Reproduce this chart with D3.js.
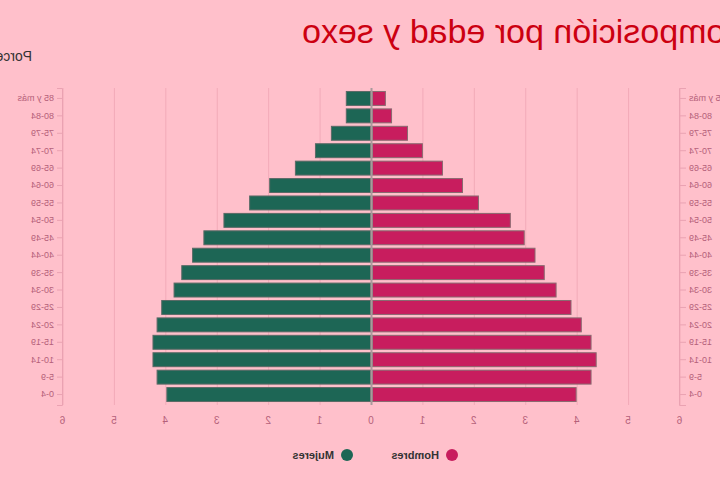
<!DOCTYPE html>
<html>
<head>
<meta charset="utf-8">
<script src="https://cdn.jsdelivr.net/npm/d3@7"></script>
<style>
  body { margin: 0; background: #ffc0cb; }
  /* the reference is shown mirrored, so the whole drawing is flipped */
  svg { display: block; transform: scaleX(-1); font-family: "Liberation Sans", Arial, sans-serif; }
</style>
</head>
<body>
<svg width="720" height="480"></svg>
<script>
// age groups, bottom to top
var ageGroups = ["0-4", "5-9", "10-14", "15-19", "20-24", "25-29", "30-34", "35-39", "40-44",
  "45-49", "50-54", "55-59", "60-64", "65-69", "70-74", "75-79", "80-84", "85 y más"];

// percent of population
var hombres = [3.98, 4.27, 4.37, 4.27, 4.08, 3.88, 3.59, 3.36, 3.18, 2.97, 2.70, 2.08, 1.77, 1.38, 0.99, 0.70, 0.39, 0.27];
var mujeres = [3.98, 4.17, 4.25, 4.25, 4.17, 4.08, 3.84, 3.69, 3.48, 3.26, 2.87, 2.37, 1.98, 1.48, 1.09, 0.78, 0.49, 0.49];

var xTicks = [-6, -5, -4, -3, -2, -1, 0, 1, 2, 3, 4, 5, 6];
var seriesNames = ["Hombres", "Mujeres"];
var seriesColors = ["#c81d5e", "#1d6655"];

var svg = d3.select("svg");

// plot area
var x = d3.scaleLinear().domain([-6, 6]).range([40, 657]);
var y = d3.scaleBand().domain(ageGroups).range([405, 88]).padding(0.2);

// title and unit
svg.append("text")
    .attr("x", 418).attr("y", 43)
    .attr("text-anchor", "end")
    .attr("font-size", 34)
    .attr("fill", "#cc0011")
    .text("Composición por edad y sexo");

svg.append("text")
    .attr("x", 688).attr("y", 61)
    .attr("font-size", 14)
    .attr("fill", "#333")
    .text("Porcentaje");

// vertical grid
svg.append("g")
    .selectAll("line")
    .data(xTicks)
    .enter().append("line")
      .attr("x1", function(d) { return x(d); })
      .attr("x2", function(d) { return x(d); })
      .attr("y1", 88).attr("y2", 405)
      .attr("stroke", "#f2aab8")
      .attr("stroke-width", 1);

// x axis labels
var xAxis = svg.append("g")
    .attr("transform", "translate(0,405)")
    .call(d3.axisBottom(x).tickValues(xTicks).tickSize(0).tickPadding(12)
      .tickFormat(function(d) { return Math.abs(d); }));
xAxis.select(".domain").remove();
xAxis.selectAll("text").attr("fill", "#b5607a").attr("font-size", 10);

// age axes on both sides
var yLeft = svg.append("g")
    .attr("transform", "translate(" + x(-6) + ",0)")
    .call(d3.axisLeft(y).tickSize(6));
var yRight = svg.append("g")
    .attr("transform", "translate(" + x(6) + ",0)")
    .call(d3.axisRight(y).tickSize(6));
[yLeft, yRight].forEach(function(g) {
  g.selectAll(".domain, line").attr("stroke", "#eaa2b2");
  g.selectAll("text").attr("fill", "#b5607a").attr("font-size", 9);
});

// Hombres bars (left)
svg.append("g")
    .selectAll("rect")
    .data(hombres)
    .enter().append("rect")
      .attr("x", function(d) { return x(-d); })
      .attr("y", function(d, i) { return y(ageGroups[i]); })
      .attr("width", function(d) { return x(0) - x(-d) - 1; })
      .attr("height", y.bandwidth())
      .attr("fill", seriesColors[0])
      .attr("stroke", "#8a6a70")
      .attr("stroke-width", 1);

// Mujeres bars (right)
svg.append("g")
    .selectAll("rect")
    .data(mujeres)
    .enter().append("rect")
      .attr("x", x(0) + 1)
      .attr("y", function(d, i) { return y(ageGroups[i]); })
      .attr("width", function(d) { return x(d) - x(0) - 1; })
      .attr("height", y.bandwidth())
      .attr("fill", seriesColors[1])
      .attr("stroke", "#5a6a66")
      .attr("stroke-width", 1);

// center line
svg.append("line")
    .attr("x1", x(0)).attr("x2", x(0))
    .attr("y1", 88).attr("y2", 405)
    .attr("stroke", "#a89a9c")
    .attr("stroke-width", 2);

// legend
var legend = svg.append("g")
    .selectAll("g")
    .data(seriesNames)
    .enter().append("g")
      .attr("transform", function(d, i) { return "translate(" + (268 + i * 105) + ",455)"; });
legend.append("circle")
    .attr("r", 6)
    .attr("fill", function(d, i) { return seriesColors[i]; });
legend.append("text")
    .attr("x", 13).attr("dy", "0.35em")
    .attr("font-size", 11)
    .attr("font-weight", "bold")
    .attr("fill", "#333")
    .text(function(d) { return d; });
</script>
</body>
</html>
